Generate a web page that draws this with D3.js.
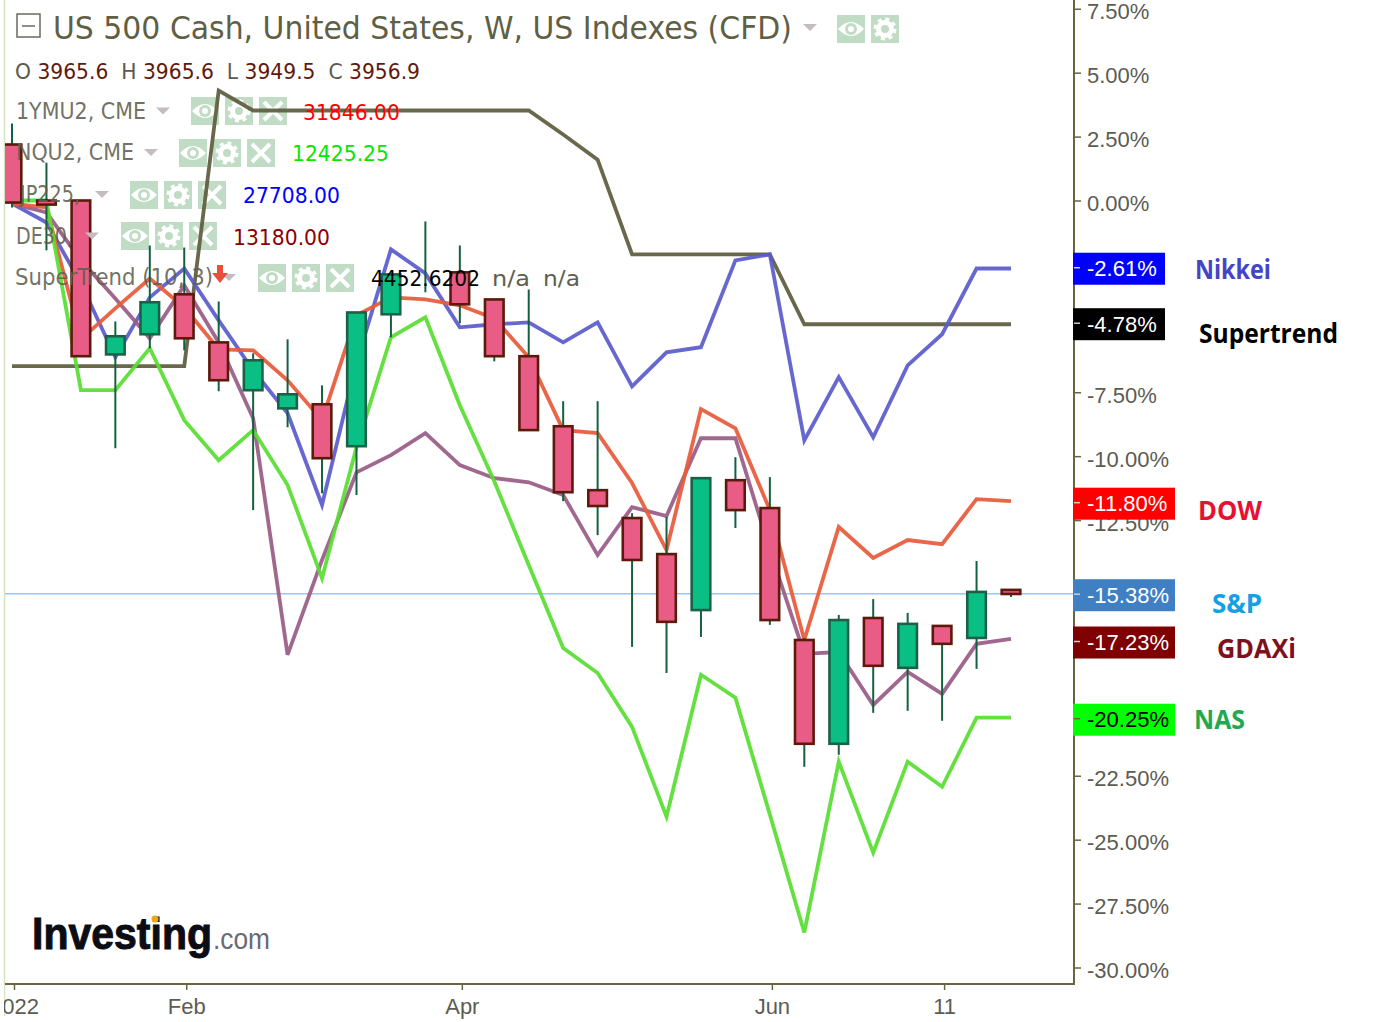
<!DOCTYPE html>
<html>
<head>
<meta charset="utf-8">
<script src="https://cdn.jsdelivr.net/npm/d3@7"></script>
<style>
  body { margin: 0; background: #fff; }
  text { font-family: "DejaVu Sans", sans-serif; }
  .tick text { font-family: "Liberation Sans", Arial, sans-serif; font-size: 22px; fill: #5c5c52; }
</style>
</head>
<body>
<script>
// weekly candles, all values in % from the start of the chart
var opens = [2.19, 0, 0, -6.02, -5.23, -3.67, -5.55, -7.42, -8.13, -7.97, -9.61, -4.45, -2.89, -2.81, -3.87, -6.09, -8.83, -11.33, -12.42, -13.83, -16.02, -10.94, -12.03, -17.19, -21.25, -16.33, -18.28, -16.64, -17.11, -15.23];
var closes = [-0.08, -0.16, -6.09, -5.31, -3.98, -5.39, -7.03, -6.25, -7.58, -10.08, -4.38, -2.89, -2.89, -4.06, -6.09, -8.98, -11.41, -11.95, -14.06, -16.48, -10.86, -12.11, -16.41, -21.25, -16.41, -18.20, -16.56, -17.34, -15.31, -15.39];
var highs = [3.01, 1.48, 0, -4.73, -1.76, -1.84, -3.95, -5.98, -5.43, -7.23, -4.38, -2.89, -0.82, -1.76, -3.87, -3.48, -7.85, -7.85, -12.23, -12.38, -10.86, -10.04, -10.82, -17.11, -16.21, -15.59, -16.13, -16.64, -14.10, -15.23];
var lows = [-0.27, -1.95, -6.09, -9.69, -5.78, -5.86, -7.46, -12.11, -8.87, -11.45, -11.52, -5.35, -3.59, -4.80, -6.29, -8.98, -11.76, -13.09, -17.46, -18.48, -17.07, -12.81, -16.60, -22.15, -21.68, -20.04, -19.96, -20.35, -18.32, -15.51];

var nikkei = [-0.12, -0.86, -3.24, -6.13, -3.79, -2.66, -4.69, -6.64, -8.32, -11.91, -6.33, -1.91, -2.85, -4.96, -4.84, -4.77, -5.55, -4.77, -7.27, -5.94, -5.74, -2.34, -2.11, -9.38, -6.91, -9.26, -6.45, -5.23, -2.66, -2.66];
var dow = [-0.12, -0.27, -5.43, -4.22, -3.05, -4.18, -5.82, -5.86, -7.03, -8.59, -4.49, -3.79, -3.87, -4.10, -4.61, -6.13, -8.98, -9.10, -11.05, -13.67, -8.16, -8.91, -12.11, -17.19, -12.77, -13.98, -13.28, -13.44, -11.68, -11.76];
var gdaxi = [-0.12, -0.47, -2.34, -3.83, -5.39, -3.32, -5.55, -8.52, -17.77, -14.06, -10.63, -9.96, -9.10, -10.35, -10.86, -11.02, -11.52, -13.87, -11.99, -12.34, -9.30, -9.30, -13.67, -17.73, -17.66, -19.73, -18.44, -19.30, -17.34, -17.15];
var nas = [0, 0, -7.42, -7.42, -5.78, -8.59, -10.16, -8.98, -11.13, -14.77, -9.65, -5.35, -4.57, -8.01, -10.98, -14.26, -17.50, -18.48, -20.59, -24.10, -18.55, -19.45, -24.02, -28.63, -21.95, -25.51, -21.95, -22.93, -20.23, -20.23];
var supertrend = [-6.48, -6.48, -6.48, -6.48, -6.48, -6.48, 4.30, 3.52, 3.52, 3.52, 3.52, 3.52, 3.52, 3.52, 3.52, 3.52, 2.58, 1.60, -2.11, -2.11, -2.11, -2.11, -2.11, -4.84, -4.84, -4.84, -4.84, -4.84, -4.84, -4.84];

var lastPrice = -15.38;
var yTicks = [7.5, 5, 2.5, 0, -2.5, -5, -7.5, -10, -12.5, -15, -17.5, -20, -22.5, -25, -27.5, -30];
var xTickIndex = [0, 5, 13, 22, 27];
var xTickLabels = ["2022", "Feb", "Apr", "Jun", "11"];

var badgeValues = [-2.61, -4.78, -11.80, -15.38, -17.23, -20.25];
var badgeColors = ["#0000ff", "#000000", "#ff0000", "#3f7fc4", "#7f0000", "#00ff00"];
var badgeText = ["#fff", "#fff", "#fff", "#fff", "#fff", "#000"];

var width = 1395, height = 1022;
var plotLeft = 5, plotRight = 1074, plotBottom = 984;

var svg = d3.select("body").append("svg")
  .attr("width", width)
  .attr("height", height)
  .style("display", "block");

var x = d3.scaleLinear().domain([0, 29]).range([12, 1011]);
var y = d3.scaleLinear().domain([0, -30]).range([200.5, 967.5]);

svg.append("clipPath").attr("id", "plot")
  .append("rect").attr("x", plotLeft).attr("y", 0).attr("width", plotRight - plotLeft).attr("height", plotBottom);

// left edge
svg.append("line").attr("x1", 4.5).attr("x2", 4.5).attr("y1", 0).attr("y2", 1016)
  .attr("stroke", "#d5e3c4").attr("stroke-width", 1.5);

// small square buttons in the legend
function iconBox(g, px, py, kind) {
  var b = g.append("g").attr("transform", "translate(" + px + "," + py + ")");
  b.append("rect").attr("width", 28).attr("height", 28).attr("fill", "#c0dcc4");
  if (kind == "eye") {
    b.append("path").attr("d", "M1,14 Q14,0 27,14 Q14,28 1,14 Z").attr("fill", "#fff");
    b.append("circle").attr("cx", 14).attr("cy", 14).attr("r", 6).attr("fill", "#c0dcc4");
    b.append("circle").attr("cx", 14).attr("cy", 14).attr("r", 3).attr("fill", "#fff");
  } else if (kind == "gear") {
    b.append("circle").attr("cx", 14).attr("cy", 14).attr("r", 6.5).attr("fill", "none")
      .attr("stroke", "#fff").attr("stroke-width", 5);
    b.append("circle").attr("cx", 14).attr("cy", 14).attr("r", 10).attr("fill", "none")
      .attr("stroke", "#fff").attr("stroke-width", 3).attr("stroke-dasharray", "4 3.85");
  } else {
    b.append("path").attr("d", "M5,5 L23,23 M23,5 L5,23").attr("stroke", "#fff").attr("stroke-width", 4);
  }
}

function triangle(g, px, py) {
  g.append("path").attr("d", "M" + px + "," + py + " h14 l-7,7 z").attr("fill", "#c4bcc0");
}

var iconLayer = svg.append("g");
var iconRows = [
  { xs: [837, 871], y: 15, kinds: ["eye", "gear"] },
  { xs: [191, 225, 259], y: 97, kinds: ["eye", "gear", "x"] },
  { xs: [179, 213, 247], y: 139, kinds: ["eye", "gear", "x"] },
  { xs: [130, 164, 198], y: 181, kinds: ["eye", "gear", "x"] },
  { xs: [121, 155, 189], y: 222, kinds: ["eye", "gear", "x"] },
  { xs: [258, 292, 326], y: 264, kinds: ["eye", "gear", "x"] }
];
iconRows.forEach(function(row) {
  row.xs.forEach(function(px, i) { iconBox(iconLayer, px, row.y, row.kinds[i]); });
});

// axes
var yAxis = d3.axisRight(y).tickValues(yTicks).tickSize(7).tickPadding(6)
  .tickFormat(function(d) { return d.toFixed(2) + "%"; });
var yG = svg.append("g").attr("transform", "translate(" + plotRight + ",0)").call(yAxis);
yG.select(".domain").remove();
yG.selectAll(".tick line").attr("stroke", "#6b6440").attr("stroke-width", 1.5);
yG.selectAll(".tick text").attr("dy", null).attr("y", 10);

svg.append("line").attr("x1", plotRight).attr("x2", plotRight).attr("y1", 0).attr("y2", plotBottom + 1)
  .attr("stroke", "#6b6440").attr("stroke-width", 2);

var xAxis = d3.axisBottom(x).tickValues(xTickIndex).tickSize(6).tickPadding(8)
  .tickFormat(function(d, i) { return xTickLabels[i]; });
var xG = svg.append("g").attr("transform", "translate(2," + plotBottom + ")").call(xAxis);
xG.select(".domain").remove();
xG.selectAll(".tick line").attr("stroke", "#6b6440").attr("stroke-width", 1.5);
svg.append("line").attr("x1", plotLeft).attr("x2", plotRight).attr("y1", plotBottom).attr("y2", plotBottom)
  .attr("stroke", "#6b6440").attr("stroke-width", 2);
svg.append("rect").attr("x", 0).attr("y", plotBottom + 1).attr("width", 4).attr("height", 37).attr("fill", "#fff");

var plot = svg.append("g").attr("clip-path", "url(#plot)");

// last price line
plot.append("line")
  .attr("x1", plotLeft).attr("x2", plotRight)
  .attr("y1", y(lastPrice)).attr("y2", y(lastPrice))
  .attr("stroke", "#9cc6f2").attr("stroke-width", 1.5);

var line = d3.line()
  .x(function(d, i) { return x(i); })
  .y(function(d) { return y(d); });

var series = [
  { values: supertrend, color: "#5f5c3e" },
  { values: nikkei, color: "#5a5ccb" },
  { values: gdaxi, color: "#9a5c86" },
  { values: dow, color: "#e85a3a" },
  { values: nas, color: "#58de33" }
];
plot.selectAll(".series")
  .data(series)
  .enter()
  .append("path")
  .attr("class", "series")
  .attr("fill", "none")
  .attr("stroke", function(d) { return d.color; })
  .attr("stroke-width", 3.8)
  .attr("stroke-opacity", 0.93)
  .attr("stroke-linejoin", "miter")
  .attr("d", function(d) { return line(d.values); });

// candles
var candleData = opens.map(function(o, i) {
  return { i: i, open: o, close: closes[i], high: highs[i], low: lows[i] };
});
plot.selectAll(".wick")
  .data(candleData)
  .enter()
  .append("line")
  .attr("class", "wick")
  .attr("x1", function(d) { return x(d.i); })
  .attr("x2", function(d) { return x(d.i); })
  .attr("y1", function(d) { return y(d.high); })
  .attr("y2", function(d) { return y(d.low); })
  .attr("stroke", "#14603f")
  .attr("stroke-width", 2);
plot.selectAll(".body")
  .data(candleData.filter(function(d) { return d.open != d.close; }))
  .enter()
  .append("rect")
  .attr("class", "body")
  .attr("x", function(d) { return x(d.i) - 9.3; })
  .attr("width", 18.6)
  .attr("y", function(d) { return y(Math.max(d.open, d.close)); })
  .attr("height", function(d) { return Math.max(1, Math.abs(y(d.open) - y(d.close))); })
  .attr("fill", function(d) { return d.close > d.open ? "#0abf84" : "#e85c86"; })
  .attr("stroke", function(d) { return d.close > d.open ? "#1b6148" : "#5c1a0a"; })
  .attr("stroke-width", 2.6);

// legend text
var legend = svg.append("g");
legend.append("rect").attr("x", 17).attr("y", 14).attr("width", 23).attr("height", 23)
  .attr("fill", "none").attr("stroke", "#6a6a60").attr("stroke-width", 1.5);
legend.append("line").attr("x1", 22).attr("x2", 35).attr("y1", 26).attr("y2", 26)
  .attr("stroke", "#6a6a60").attr("stroke-width", 1.5);
legend.append("text").attr("x", 53).attr("y", 39)
  .attr("font-size", 32).attr("fill", "#5f5f45").attr("textLength", 739).attr("lengthAdjust", "spacingAndGlyphs")
  .text("US 500 Cash, United States, W, US Indexes (CFD)");
triangle(legend, 803, 24);

var ohlc = legend.append("text").attr("x", 15).attr("y", 79).attr("font-size", 22)
  .attr("textLength", 405).attr("lengthAdjust", "spacingAndGlyphs");
[["O ", "#5a5a50"], ["3965.6", "#5f1a0c"], ["  H ", "#5a5a50"], ["3965.6", "#5f1a0c"], ["  L ", "#5a5a50"], ["3949.5", "#5f1a0c"], ["  C ", "#5a5a50"], ["3956.9", "#5f1a0c"]]
  .forEach(function(p) {
    ohlc.append("tspan").attr("fill", p[1]).style("white-space", "pre").text(p[0]);
  });

var rows = [
  { label: "1YMU2, CME", x: 16, y: 118.5, len: 130, tri: 156, val: "31846.00", vx: 303, color: "#ff0000" },
  { label: "NQU2, CME", x: 16, y: 160, len: 118, tri: 144, val: "12425.25", vx: 292, color: "#00e800" },
  { label: "JP225,", x: 20, y: 202, len: 60, tri: 95, val: "27708.00", vx: 243, color: "#0000ff" },
  { label: "DE30,", x: 16, y: 243.5, len: 57, tri: 85, val: "13180.00", vx: 233, color: "#8b0000" },
  { label: "SuperTrend (10, 3)", x: 15, y: 285, len: 198, tri: 222, val: "4452.6202", vx: 371, color: "#000000" }
];
rows.forEach(function(r) {
  legend.append("text").attr("x", r.x).attr("y", r.y).attr("font-size", 22.5).attr("fill", "#5f5f50")
    .attr("fill-opacity", 0.9).attr("textLength", r.len).attr("lengthAdjust", "spacingAndGlyphs").text(r.label);
  triangle(legend, r.tri, r.y - 11);
  legend.append("text").attr("x", r.vx).attr("y", r.y + 1).attr("font-size", 22).attr("fill", r.color)
    .attr("textLength", r.val.length == 9 ? 109 : 97).attr("lengthAdjust", "spacingAndGlyphs").text(r.val);
});
legend.append("path").attr("d", "M217,265 h6 v8 h5 l-8,10 l-8,-10 h5 z").attr("fill", "#e8503a");
legend.append("text").attr("x", 492).attr("y", 286).attr("font-size", 22).attr("fill", "#5f5f50")
  .attr("textLength", 38).attr("lengthAdjust", "spacingAndGlyphs").text("n/a");
legend.append("text").attr("x", 543).attr("y", 286).attr("font-size", 22).attr("fill", "#5f5f50")
  .attr("textLength", 37).attr("lengthAdjust", "spacingAndGlyphs").text("n/a");

// logo
svg.append("text").attr("x", 32).attr("y", 949)
  .style("font-family", "'Liberation Sans'").attr("font-size", 45).attr("font-weight", "bold")
  .attr("fill", "#0c0c14").attr("stroke", "#0c0c14").attr("stroke-width", 1)
  .attr("textLength", 180).attr("lengthAdjust", "spacingAndGlyphs").text("Investing");
svg.append("text").attr("x", 213).attr("y", 949)
  .style("font-family", "'Liberation Sans'").attr("font-size", 30)
  .attr("fill", "#6a6a72").attr("textLength", 57).attr("lengthAdjust", "spacingAndGlyphs").text(".com");
svg.append("circle").attr("cx", 155).attr("cy", 919).attr("r", 3.5).attr("fill", "#e8a818");

// value badges on the price axis
var badges = svg.selectAll(".badge")
  .data(badgeValues)
  .enter()
  .append("g")
  .attr("class", "badge")
  .attr("transform", function(d) { return "translate(" + (plotRight - 1) + "," + (y(d) + 1.5) + ")"; });
badges.append("rect")
  .attr("y", -16)
  .attr("height", 32)
  .attr("width", function(d) { return d > -10 ? 92 : 102; })
  .attr("fill", function(d, i) { return badgeColors[i]; });
badges.append("line")
  .attr("x1", 1).attr("x2", 7)
  .attr("stroke", function(d, i) { return i == 5 ? "#6b6440" : "#d8c8c8"; })
  .attr("stroke-width", 1.5)
  .attr("y1", -1).attr("y2", -1);
badges.append("text")
  .attr("x", 14)
  .attr("y", 7.5)
  .style("font-family", "'Liberation Sans'")
  .attr("font-size", 22)
  .attr("fill", function(d, i) { return badgeText[i]; })
  .text(function(d) { return d.toFixed(2) + "%"; });

// names typed next to the badges
var names = [
  { t: "Nikkei", x: 1195, y: 279, len: 76, c: "#4444c8" },
  { t: "Supertrend", x: 1199, y: 343, len: 139, c: "#000000" },
  { t: "DOW", x: 1198, y: 520, len: 64, c: "#e81030" },
  { t: "S&P", x: 1212, y: 613, len: 50, c: "#12a0e8" },
  { t: "GDAXi", x: 1217, y: 658, len: 79, c: "#80101c" },
  { t: "NAS", x: 1194, y: 729, len: 51, c: "#22a850" }
];
svg.selectAll(".name")
  .data(names)
  .enter()
  .append("text")
  .attr("class", "name")
  .attr("x", function(d) { return d.x; })
  .attr("y", function(d) { return d.y; })
  .style("font-family", "'Open Sans'")
  .attr("font-size", 26)
  .attr("font-weight", "bold")
  .attr("textLength", function(d) { return d.len; })
  .attr("lengthAdjust", "spacingAndGlyphs")
  .attr("fill", function(d) { return d.c; })
  .text(function(d) { return d.t; });
</script>
</body>
</html>
